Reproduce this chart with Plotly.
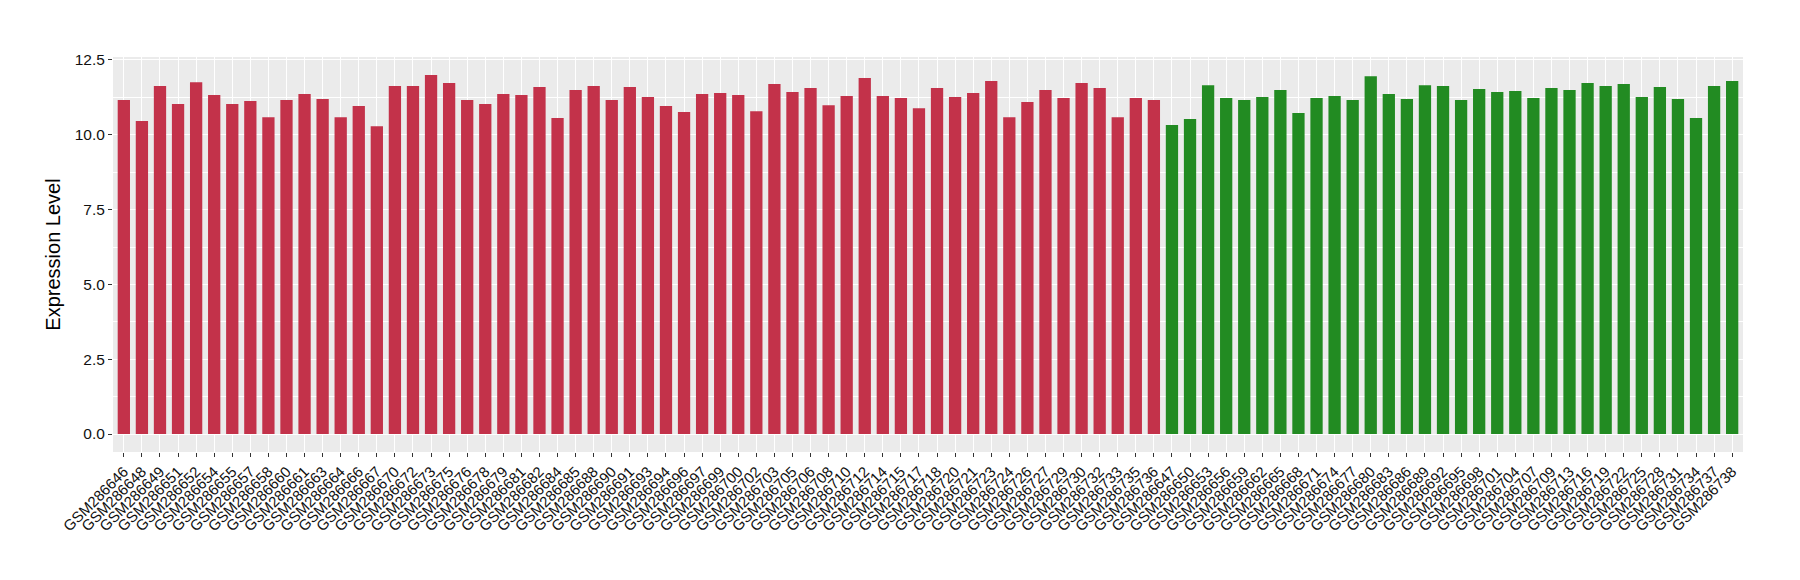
import plotly.graph_objects as go

red_samples = ["GSM286646","GSM286648","GSM286649","GSM286651","GSM286652","GSM286654","GSM286655","GSM286657",
               "GSM286658","GSM286660","GSM286661","GSM286663","GSM286664","GSM286666","GSM286667","GSM286670",
               "GSM286672","GSM286673","GSM286675","GSM286676","GSM286678","GSM286679","GSM286681","GSM286682",
               "GSM286684","GSM286685","GSM286688","GSM286690","GSM286691","GSM286693","GSM286694","GSM286696",
               "GSM286697","GSM286699","GSM286700","GSM286702","GSM286703","GSM286705","GSM286706","GSM286708",
               "GSM286710","GSM286712","GSM286714","GSM286715","GSM286717","GSM286718","GSM286720","GSM286721",
               "GSM286723","GSM286724","GSM286726","GSM286727","GSM286729","GSM286730","GSM286732","GSM286733",
               "GSM286735","GSM286736"]
red_values = [11.16,10.46,11.63,11.03,11.76,11.33,11.03,11.13,10.59,11.16,11.36,11.20,10.59,10.96,10.29,11.63,
              11.63,12.00,11.73,11.16,11.03,11.36,11.33,11.60,10.56,11.50,11.63,11.16,11.60,11.26,10.96,10.76,
              11.36,11.40,11.33,10.79,11.70,11.43,11.56,10.99,11.30,11.90,11.30,11.23,10.89,11.56,11.26,11.40,
              11.80,10.59,11.10,11.50,11.23,11.73,11.56,10.59,11.23,11.16]

green_samples = ["GSM286647","GSM286650","GSM286653","GSM286656","GSM286659","GSM286662","GSM286665","GSM286668",
                 "GSM286671","GSM286674","GSM286677","GSM286680","GSM286683","GSM286686","GSM286689","GSM286692",
                 "GSM286695","GSM286698","GSM286701","GSM286704","GSM286707","GSM286709","GSM286713","GSM286716",
                 "GSM286719","GSM286722","GSM286725","GSM286728","GSM286731","GSM286734","GSM286737","GSM286738"]
green_values = [10.33,10.53,11.66,11.23,11.16,11.26,11.50,10.73,11.23,11.30,11.16,11.96,11.36,11.20,11.66,11.63,
                11.16,11.53,11.43,11.46,11.23,11.56,11.50,11.73,11.63,11.70,11.26,11.60,11.20,10.56,11.63,11.80]

y_ticks = [0.0, 2.5, 5.0, 7.5, 10.0, 12.5]

RED = "#C3324A"
GREEN = "#228B22"
FONT = "Liberation Sans, Arial, Helvetica, sans-serif"

categories = red_samples + green_samples

fig = go.Figure()
fig.add_trace(go.Bar(x=red_samples, y=red_values, marker=dict(color=RED, line=dict(width=0)), showlegend=False))
fig.add_trace(go.Bar(x=green_samples, y=green_values, marker=dict(color=GREEN, line=dict(width=0)), showlegend=False))

# page body has an 8px default margin, so the figure is 8px smaller and margins compensate
fig.update_layout(
    width=1792, height=572,
    margin=dict(l=105, r=57, t=49, b=128, autoexpand=False),
    paper_bgcolor="white",
    plot_bgcolor="#EBEBEB",
    bargap=0.32,
    font=dict(family=FONT, color="#111111", size=15),
)
fig.update_xaxes(
    type="category",
    categoryorder="array", categoryarray=categories,
    tickmode="array", tickvals=categories, ticktext=categories,
    range=[-0.6, len(categories) - 0.4],
    tickangle=-45,
    tickfont=dict(size=15, color="#111111", family=FONT),
    showgrid=True, gridcolor="white", gridwidth=1.1,
    ticks="outside", ticklen=4, tickcolor="#333333", tickwidth=1,
    showline=False, zeroline=False, automargin=False,
)
fig.update_yaxes(
    range=[-0.6, 12.6],
    tickmode="array", tickvals=y_ticks, ticktext=[f"{v:.1f}" for v in y_ticks],
    tickfont=dict(size=15.5, color="#111111", family=FONT),
    showgrid=True, gridcolor="white", gridwidth=1.1,
    minor=dict(dtick=1.25, tick0=1.25, showgrid=True, gridcolor="white", gridwidth=0.5),
    ticks="outside", ticklen=4, tickcolor="#333333", tickwidth=1,
    zeroline=False, showline=False, automargin=False,
    title=dict(text="Expression Level", font=dict(size=20, color="black", family=FONT), standoff=8),
)

fig.write_html("out.html")
